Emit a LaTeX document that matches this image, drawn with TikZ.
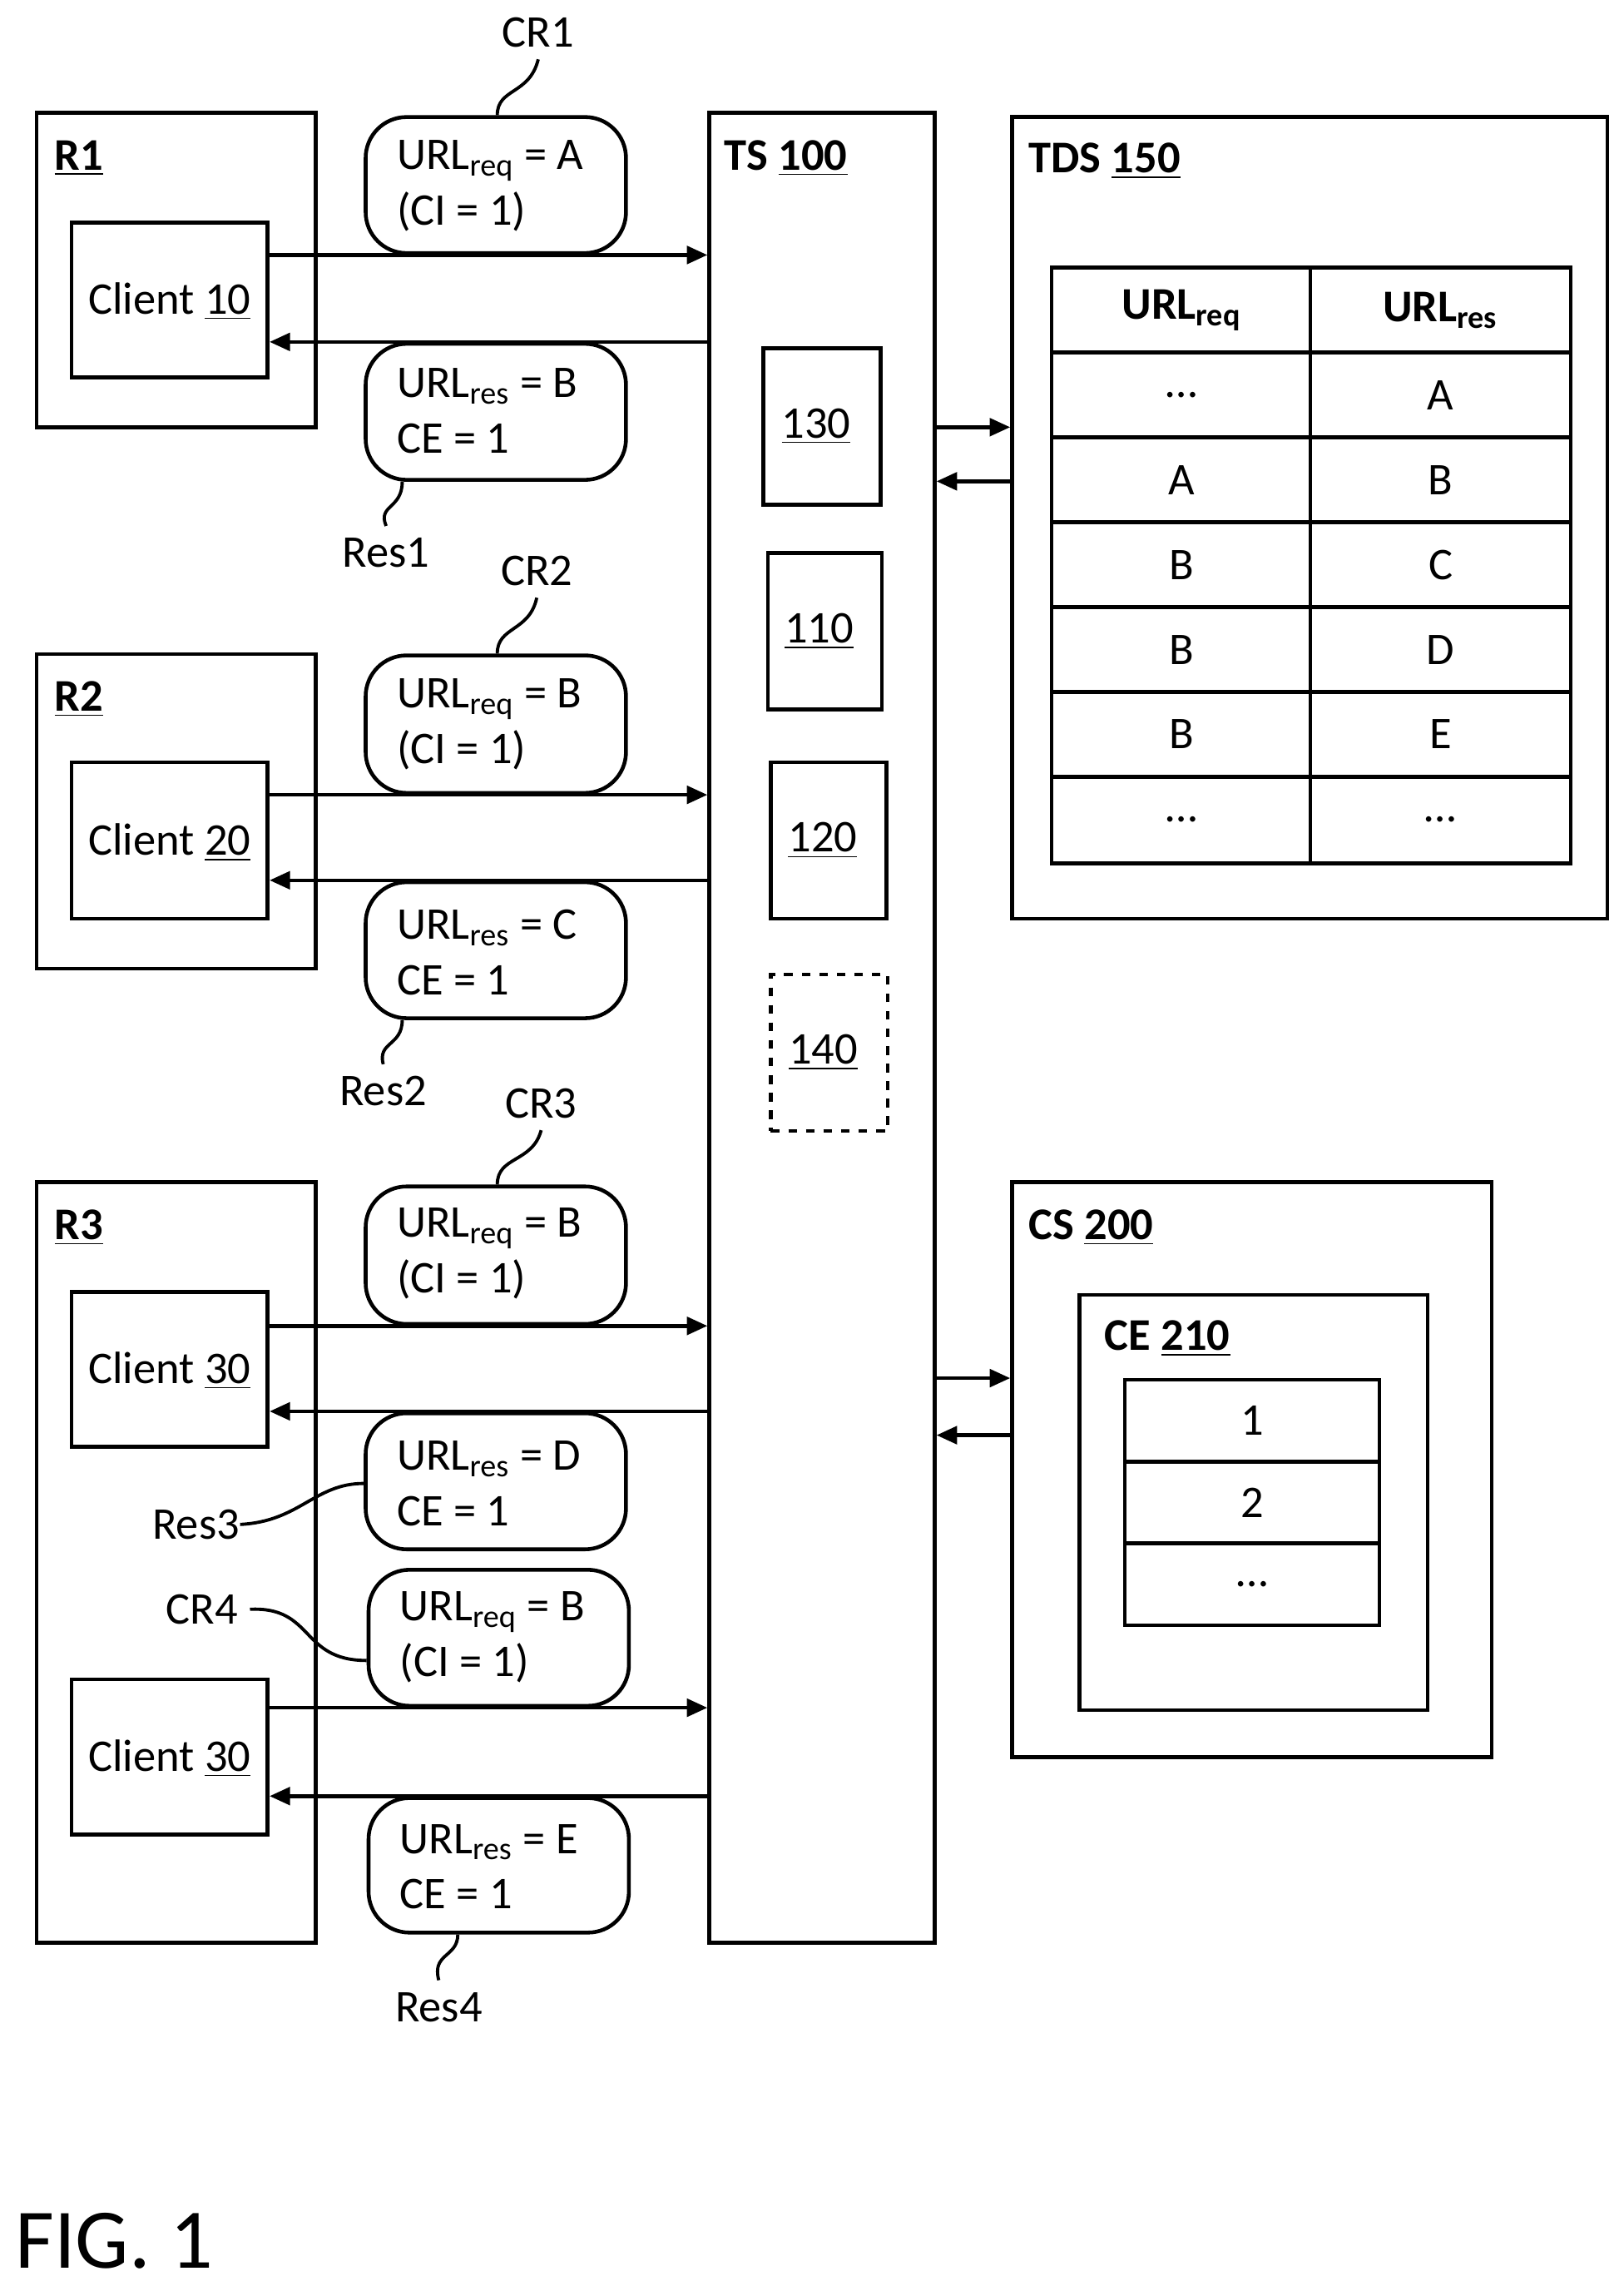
\documentclass[tikz,border=0pt]{standalone}
\usepackage{fontspec}
\setmainfont{Carlito}
\usetikzlibrary{fit,arrows.meta}

\tikzset{
  box/.style={draw, line width=1.3pt, inner sep=0pt},
  bub/.style={draw, line width=1.3pt, inner sep=0pt, rounded corners=14pt},
  txt/.style={font=\fontsize{15.5}{19}\selectfont, inner sep=0pt},
  ttl/.style={txt, anchor=west, font=\fontsize{15.5}{19}\selectfont\bfseries},
  msg/.style={->, line width=1.3pt, >={Triangle[length=7pt,width=6pt]}},
  tag/.style={line width=1.1pt},
}
\newcommand\req[1]{URL\textsubscript{req} = #1}
\newcommand\res[1]{URL\textsubscript{res} = #1}

\begin{document}
\begin{tikzpicture}[x=0.01758cm, y=-0.01758cm]
      \useasboundingbox (0,0) rectangle (1110,1566);
%      rooms with clients
      \node [box, fit={(25,77)(216,292)}] (r1) {};
      \node [box, fit={(49,152)(183,258)}] (c10) {};
      \node [ttl] at (37,108) {\underline{R1}};
      \node [txt] at (116,206) {Client \underline{10}};
      \node [box, fit={(25,447)(216,662)}] (r2) {};
      \node [box, fit={(49,521)(183,628)}] (c20) {};
      \node [ttl] at (37,478) {\underline{R2}};
      \node [txt] at (116,576) {Client \underline{20}};
      \node [box, fit={(25,808)(216,1328)}] (r3) {};
      \node [box, fit={(49,883)(183,989)}] (c30a) {};
      \node [box, fit={(49,1148)(183,1254)}] (c30b) {};
      \node [ttl] at (37,839) {\underline{R3}};
      \node [txt] at (116,937) {Client \underline{30}};
      \node [txt] at (116,1202) {Client \underline{30}};
%      messages
      \node [bub, fit={(250,80)(428,173)}] (cr1) {};
      \node [txt, anchor=west, align=left] at (271,127) {\req{A}\\(CI = 1)};
      \node [bub, fit={(250,235)(428,328)}] (res1) {};
      \node [txt, anchor=west, align=left] at (271,281) {\res{B}\\CE = 1};
      \node [bub, fit={(250,448)(428,542)}] (cr2) {};
      \node [txt, anchor=west, align=left] at (271,495) {\req{B}\\(CI = 1)};
      \node [bub, fit={(250,603)(428,696)}] (res2) {};
      \node [txt, anchor=west, align=left] at (271,651) {\res{C}\\CE = 1};
      \node [bub, fit={(250,811)(428,905)}] (cr3) {};
      \node [txt, anchor=west, align=left] at (271,857) {\req{B}\\(CI = 1)};
      \node [bub, fit={(250,966)(428,1059)}] (res3) {};
      \node [txt, anchor=west, align=left] at (271,1014) {\res{D}\\CE = 1};
      \node [bub, fit={(252,1073)(430,1166)}] (cr4) {};
      \node [txt, anchor=west, align=left] at (273,1119) {\req{B}\\(CI = 1)};
      \node [bub, fit={(252,1229)(430,1321)}] (res4) {};
      \node [txt, anchor=west, align=left] at (273,1276) {\res{E}\\CE = 1};
%      message tags
      \node [txt] (tcr1) at (368,22) {CR1};
      \node [txt] (tres1) at (264,378) {Res1};
      \node [txt] (tcr2) at (367,390) {CR2};
      \node [txt] (tres2) at (262,746) {Res2};
      \node [txt] (tcr3) at (370,754) {CR3};
      \node [txt] (tres3) at (134,1042) {Res3};
      \node [txt] (tcr4) at (138,1100) {CR4};
      \node [txt] (tres4) at (300,1372) {Res4};
      \draw [tag] (cr1.north -| 340,0) .. controls (340,60) and (362,65) .. ([yshift=-4pt]tcr1.south);
      \draw [tag] (res1.south -| 275,0) .. controls (275,348) and (258,345) .. ([yshift=4pt]tres1.north);
      \draw [tag] (cr2.north -| 340,0) .. controls (340,428) and (362,432) .. ([yshift=-4pt]tcr2.south);
      \draw [tag] (res2.south -| 275,0) .. controls (275,715) and (258,712) .. ([yshift=4pt]tres2.north);
      \draw [tag] (cr3.north -| 340,0) .. controls (340,790) and (364,795) .. ([yshift=-4pt]tcr3.south);
      \draw [tag] (res3.west |- 0,1014) .. controls (215,1014) and (205,1040) .. (tres3.east);
      \draw [tag] (cr4.west |- 0,1135) .. controls (205,1135) and (215,1098) .. ([xshift=4pt]tcr4.east);
      \draw [tag] (res4.south -| 313,0) .. controls (313,1338) and (295,1335) .. ([yshift=4pt]tres4.north);
%      traffic server
      \node [box, fit={(485,77)(639,1328)}] (ts) {};
      \node [ttl] at (495,108) {TS \underline{100}};
      \node [box, fit={(522,238)(602,345)}] (m130) {};
      \node [txt] at ([xshift=-2pt]m130) {\underline{130}};
      \node [box, fit={(525,378)(603,485)}] (m110) {};
      \node [txt] at ([xshift=-2pt]m110) {\underline{110}};
      \node [box, fit={(527,521)(606,628)}] (m120) {};
      \node [txt] at ([xshift=-2pt]m120) {\underline{120}};
      \node [box, dashed, fit={(527,666)(607,773)}] (m140) {};
      \node [txt] at ([xshift=-2pt]m140) {\underline{140}};
%      client <-> ts
      \draw [msg] (c10.east |- cr1.south) -- (ts.west |- cr1.south);
      \draw [msg] (ts.west |- res1.north) -- (c10.east |- res1.north);
      \draw [msg] (c20.east |- cr2.south) -- (ts.west |- cr2.south);
      \draw [msg] (ts.west |- res2.north) -- (c20.east |- res2.north);
      \draw [msg] (c30a.east |- cr3.south) -- (ts.west |- cr3.south);
      \draw [msg] (ts.west |- res3.north) -- (c30a.east |- res3.north);
      \draw [msg] (c30b.east |- cr4.south) -- (ts.west |- cr4.south);
      \draw [msg] (ts.west |- res4.north) -- (c30b.east |- res4.north);
%      TDS
      \node [box, fit={(692,80)(1099,628)}] (tds) {};
      \node [ttl] at (703,110) {TDS \underline{150}};
      \draw [line width=1.3pt] (719,183) rectangle (1074,590);
      \draw [line width=1.3pt] (896,183) -- (896,590);
      \foreach \y in {241,299,357,415,473,531} \draw [line width=1.3pt] (719,\y) -- (1074,\y);
      \node [txt, font=\fontsize{15.5}{19}\selectfont\bfseries] at (808,212) {URL\textsubscript{req}};
      \node [txt, font=\fontsize{15.5}{19}\selectfont\bfseries] at (985,212) {URL\textsubscript{res}};
      \foreach \a/\b [count=\i] in {\dots/A,A/B,B/C,B/D,B/E,\dots/\dots} {
        \node [txt] at (808,212+58*\i) {\a};
        \node [txt] at (985,212+58*\i) {\b};
      }
      \draw [msg] (ts.east |- 0,292) -- (tds.west |- 0,292);
      \draw [msg] (tds.west |- 0,329) -- (ts.east |- 0,329);
%      CS
      \node [box, fit={(692,808)(1020,1201)}] (cs) {};
      \node [ttl] at (703,839) {CS \underline{200}};
      \node [box, fit={(738,885)(976,1169)}] (ce) {};
      \node [ttl] at (755,915) {CE \underline{210}};
      \draw [line width=1.3pt] (769,943) rectangle (943,1111);
      \draw [line width=1.3pt] (769,999) -- (943,999) (769,1055) -- (943,1055);
      \node [txt] at (856,971) {1};
      \node [txt] at (856,1027) {2};
      \node [txt] at (856,1083) {\dots};
      \draw [msg] (ts.east |- 0,942) -- (cs.west |- 0,942);
      \draw [msg] (cs.west |- 0,981) -- (ts.east |- 0,981);
      \node [txt, font=\fontsize{29}{33}\selectfont] at (78,1532) {FIG. 1};
\end{tikzpicture}
\end{document}
